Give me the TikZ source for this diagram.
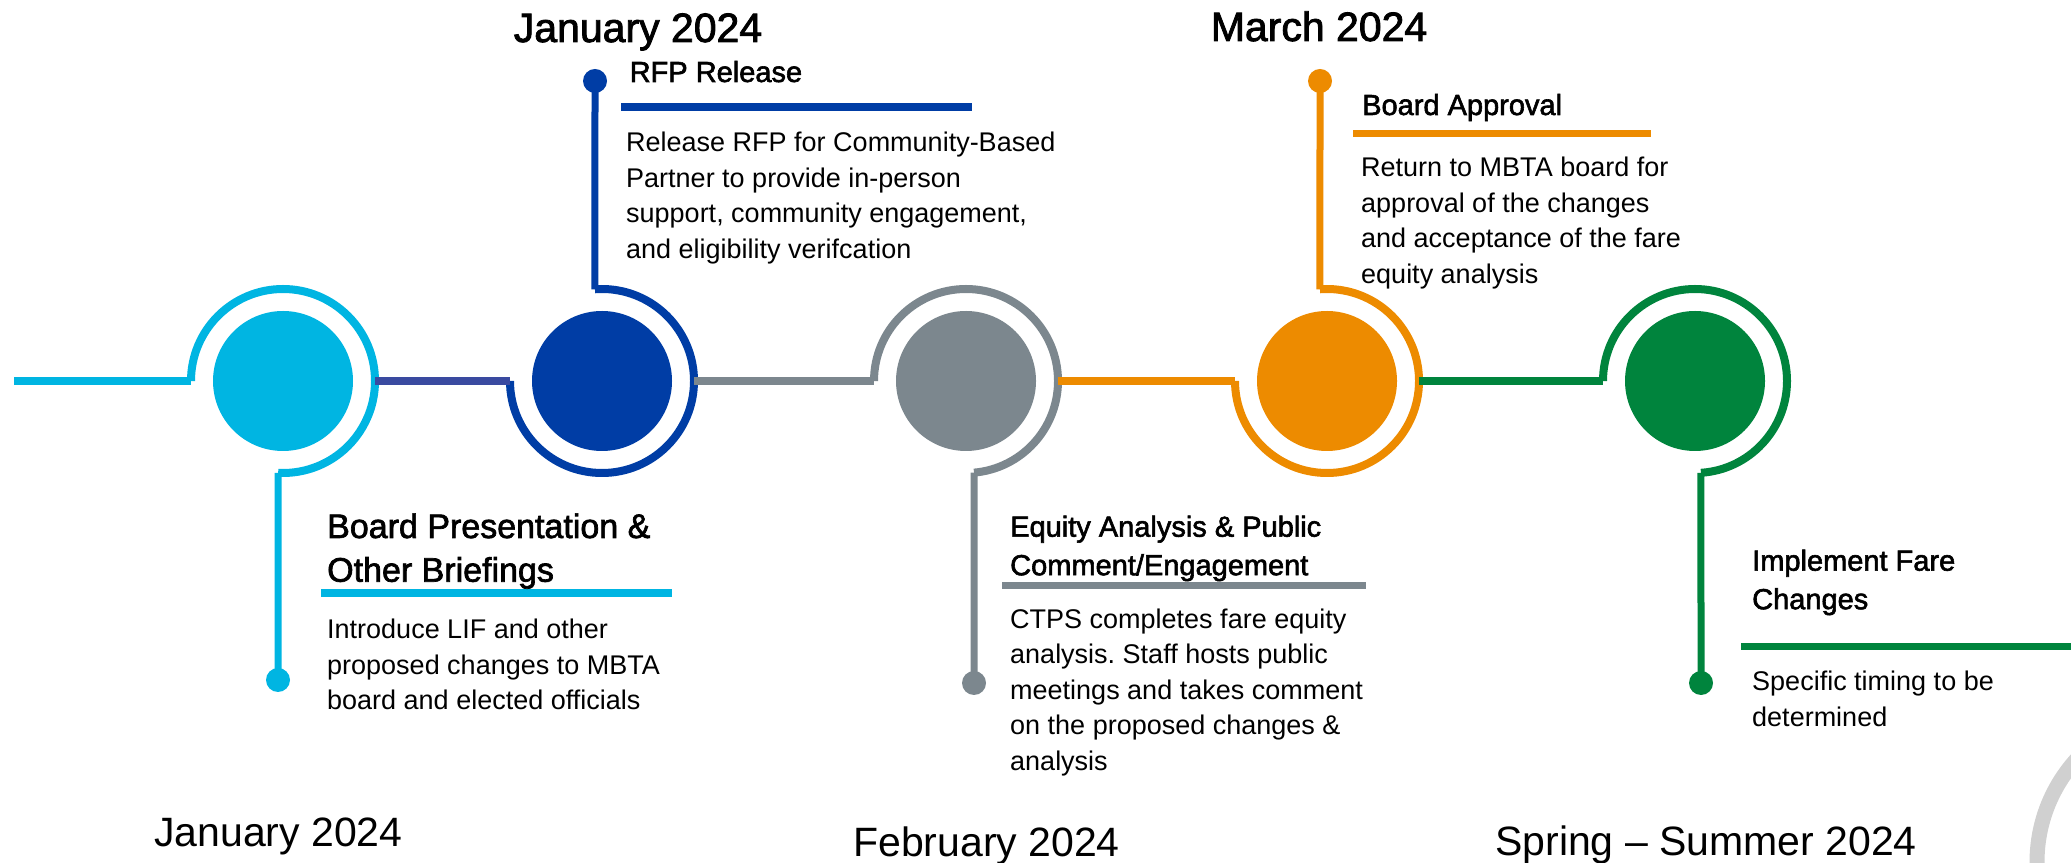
\documentclass[tikz,border=0pt]{standalone}
\usepackage{fontspec}
\setmainfont{Liberation Sans}
\newfontfamily\hfont[FakeBold=2]{Liberation Sans}
\frenchspacing
\definecolor{mcyan}{HTML}{00B5E2}
\definecolor{mnavy}{HTML}{003DA5}
\definecolor{mindigo}{HTML}{3A4AA0}
\definecolor{mgray}{HTML}{7C878E}
\definecolor{morange}{HTML}{ED8B00}
\definecolor{mgreen}{HTML}{00843D}
\definecolor{arcgray}{HTML}{D0D0D0}
\newcommand\blk[1]{\begin{tabular}[t]{@{}l@{}}#1\end{tabular}}
\tikzset{
  hub/.style={circle, fill=#1, draw=none, minimum size=140pt, inner sep=0pt},
  ring/.style={draw=#1, line width=8pt},
  conn/.style={draw=#1, line width=8pt},
  stem/.style={draw=#1, line width=7pt},
  bar/.style={draw=#1, line width=8pt},
  dotn/.style={circle, fill=#1, draw=none, minimum size=24pt, inner sep=0pt},
  body/.style={anchor=base west, inner sep=0pt, font=\fontsize{27}{35.5}\selectfont},
  head/.style={anchor=base west, inner sep=0pt, font=\hfont\fontsize{29}{38.5}\selectfont},
  datel/.style={anchor=base west, inner sep=0pt, font=\fontsize{41}{48}\selectfont},
  dateb/.style={anchor=base west, inner sep=0pt, font=\hfont\fontsize{41}{48}\selectfont},
}
\begin{document}
\begin{tikzpicture}[x=1pt,y=1pt]
\useasboundingbox (0,0) rectangle (2071,862);
\begin{scope}
  \clip (0,0) rectangle (2071,862);
  \draw[arcgray, line width=15pt] (2190,0) circle[radius=153pt];
\end{scope}

% hubs
\node[hub=mcyan]   (c1) at (283,481) {};
\node[hub=mnavy]   (c2) at (602,481) {};
\node[hub=mgray]   (c3) at (966,481) {};
\node[hub=morange] (c4) at (1327,481) {};
\node[hub=mgreen]  (c5) at (1695,481) {};

% dots
\node[dotn=mcyan]   (d1) at (278,182) {};
\node[dotn=mnavy]   (d2) at (595,781) {};
\node[dotn=mgray]   (d3) at (974,179) {};
\node[dotn=morange] (d4) at (1320,781) {};
\node[dotn=mgreen]  (d5) at (1701,179) {};

% rings
\draw[ring=mcyan]   (c1.center) ++(180:92pt) coordinate (r1L) arc[start angle=180, end angle=-93, radius=92pt] coordinate (r1B);
\path (c1.center) ++(0:92pt) coordinate (r1R);
\draw[ring=mnavy]   (c2.center) ++(180:92pt) coordinate (r2L) arc[start angle=180, end angle=454.4, radius=92pt] coordinate (r2T);
\path (c2.center) ++(0:92pt) coordinate (r2R);
\draw[ring=mgray]   (c3.center) ++(180:92pt) coordinate (r3L) arc[start angle=180, end angle=-85, radius=92pt] coordinate (r3B);
\path (c3.center) ++(0:92pt) coordinate (r3R);
\draw[ring=morange] (c4.center) ++(180:92pt) coordinate (r4L) arc[start angle=180, end angle=454.4, radius=92pt] coordinate (r4T);
\path (c4.center) ++(0:92pt) coordinate (r4R);
\draw[ring=mgreen]  (c5.center) ++(180:92pt) coordinate (r5L) arc[start angle=180, end angle=-86.3, radius=92pt] coordinate (r5B);

% connectors
\coordinate (s0) at (14,481);
\draw[conn=mcyan]   (s0) -- (r1L);
\draw[conn=mindigo] (r1R) -- (r2L);
\draw[conn=mgray]   (r2R) -- (r3L);
\draw[conn=morange] (r3R) -- (r4L);
\draw[conn=mgreen]  (r4R) -- (r5L);

% stems
\draw[stem=mcyan]   (r1B) -- (d1.center);
\draw[stem=mnavy]   (r2T) -- (d2.center);
\draw[stem=mgray]   (r3B) -- (d3.center);
\draw[stem=morange] (r4T) -- (d4.center);
\draw[stem=mgreen]  (r5B) -- (d5.center);

% heading bars
\draw[bar=mcyan] (321,269) -- (672,269);
\draw[bar=mnavy] (621,755) -- (972,755);
\draw[bar=mgray, line width=7pt] (1002,276) -- (1366,276);
\draw[bar=morange, line width=7pt] (1353,728) -- (1651,728);
\draw[bar=mgreen, line width=7pt] (1741,215) -- (2075,215);

% top dates
\node[dateb] (tJan) at (513.6,820) {January 2024};
\node[dateb] (tMar) at (1210.6,821) {March 2024};

% RFP
\node[head] (hRFP) at (629.5,780) {RFP Release};
\node[body] (bRFP) at (626,710) {\blk{Release RFP for Community-Based\\Partner to provide in-person\\support, community engagement,\\and eligibility verifcation}};

% Board approval
\node[head] (hBA) at (1362,747) {Board Approval};
\node[body] (bBA) at (1361,685.3) {\blk{Return to MBTA board for\\approval of the changes\\and acceptance of the fare\\equity analysis}};

% Board presentation
\node[head, font=\hfont\fontsize{34}{43.7}\selectfont] (hBP) at (327,324) {\blk{Board Presentation \&\\Other Briefings}};
\node[body] (bBP) at (327,223) {\blk{Introduce LIF and other\\proposed changes to MBTA\\board and elected officials}};

% Equity
\node[head] (hEQ) at (1010,325.3) {\blk{Equity Analysis \& Public\\Comment/Engagement}};
\node[body] (bEQ) at (1010,233.7) {\blk{CTPS completes fare equity\\analysis. Staff hosts public\\meetings and takes comment\\on the proposed changes \&\\analysis}};

% Implement
\node[head] (hIM) at (1752,291.3) {\blk{Implement Fare\\Changes}};
\node[body] (bIM) at (1752,171.3) {\blk{Specific timing to be\\determined}};

% bottom dates
\node[datel] (bJan) at (154,16) {January 2024};
\node[datel] (bFeb) at (853,6) {February 2024};
\node[datel] (bSpr) at (1495,7) {Spring -- Summer 2024};
\end{tikzpicture}
\end{document}
